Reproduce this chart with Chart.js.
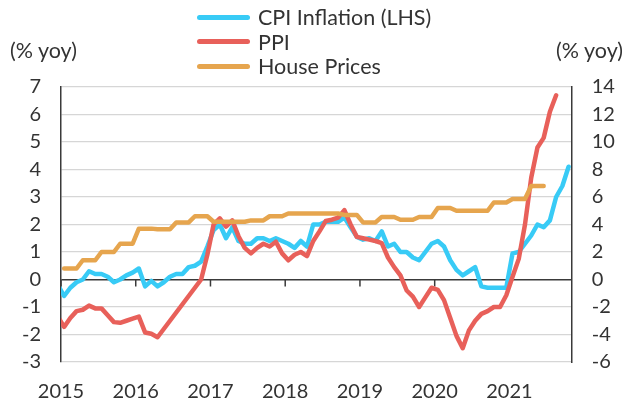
<!DOCTYPE html>
<html>
<head>
<meta charset="utf-8">
<script src="https://cdn.jsdelivr.net/npm/chart.js@4.4.0/dist/chart.umd.min.js"></script>
<style>
  html, body { margin: 0; padding: 0; background: #fff; }
  #wrap { position: relative; width: 628px; height: 403px; font-family: Lato, sans-serif; color: #333; }
  #chart { position: absolute; left: 0; top: 0; }
  .unit { position: absolute; top: 37px; font-size: 21.5px; line-height: 26px; }
  #legend { position: absolute; left: 197px; top: 5px; font-size: 21.5px; }
  .item { display: flex; align-items: center; height: 24.5px; }
  .swatch { width: 53px; height: 5px; border-radius: 3px; margin-right: 8px; }
</style>
</head>
<body>
<div id="wrap">
  <canvas id="chart" width="628" height="403"></canvas>
  <div class="unit" style="left:10px">(% yoy)</div>
  <div class="unit" style="right:5px">(% yoy)</div>
  <div id="legend"></div>
</div>
<script>
// monthly series start in Dec 2014
const firstYear = 2014, firstMonth = 12;

// CPI inflation, % yoy (left axis), Dec 2014 - Oct 2021
const cpi = [
  -0.2,
  -0.6, -0.3, -0.1, 0.0, 0.3, 0.2, 0.2, 0.1, -0.1, 0.0, 0.15, 0.25,
  0.4, -0.25, -0.05, -0.25, -0.1, 0.1, 0.2, 0.2, 0.45, 0.5, 0.65, 1.2,
  1.8, 2.0, 1.5, 1.9, 1.4, 1.3, 1.3, 1.5, 1.5, 1.4, 1.5, 1.4,
  1.3, 1.15, 1.4, 1.2, 2.0, 2.0, 2.1, 2.1, 2.1, 2.25, 1.9, 1.55,
  1.45, 1.5, 1.4, 1.75, 1.2, 1.3, 1.0, 1.0, 0.8, 0.7, 1.0, 1.3,
  1.4, 1.2, 0.7, 0.35, 0.15, 0.3, 0.45, -0.25, -0.3, -0.3, -0.3, -0.3,
  0.95, 1.0, 1.3, 1.6, 2.0, 1.9, 2.15, 3.0, 3.4, 4.1
];

// PPI, % yoy (right axis), Dec 2014 - Aug 2021
const ppi = [
  -2.7,
  -3.45, -2.8, -2.3, -2.2, -1.9, -2.1, -2.1, -2.6, -3.1, -3.15, -3.0, -2.85,
  -2.7, -3.85, -3.95, -4.2, -3.6, -3.0, -2.4, -1.8, -1.2, -0.6, 0.0, 1.8,
  4.0, 4.45, 3.85, 4.3, 3.15, 2.3, 1.9, 2.3, 2.6, 2.4, 2.75, 1.9,
  1.4, 1.8, 2.0, 1.7, 2.8, 3.5, 4.25, 4.35, 4.5, 5.05, 4.0, 3.1,
  3.0, 2.9, 2.8, 2.65, 1.6, 0.9, 0.3, -0.8, -1.25, -2.0, -1.3, -0.6,
  -0.75, -1.5, -2.8, -4.1, -5.0, -3.7, -3.0, -2.5, -2.3, -2.0, -2.0, -1.15,
  0.2, 1.5, 4.0, 7.4, 9.6, 10.3, 12.2, 13.4
];

// House prices, % yoy (right axis), quarterly 2015Q1 - 2021Q2
const housePrices = [
  0.8, 1.4, 2.0, 2.6,
  3.7, 3.65, 4.15, 4.6,
  4.2, 4.2, 4.3, 4.6,
  4.8, 4.8, 4.8, 4.7,
  4.15, 4.55, 4.35, 4.55,
  5.2, 5.0, 5.0, 5.6,
  5.85, 6.8
];

const yearTicks = [2015, 2016, 2017, 2018, 2019, 2020, 2021];

const colors = { cpi: "#38CBF6", ppi: "#E8605A", house: "#E6A54E" };
const textColor = "#333333";
const axisColor = "#3a3a3a";
const tickFont = { family: "Lato", size: 20 };

// month index (from the first month) -> position in years, mid-month
const monthPos = (i) => firstYear + (firstMonth - 1 + i + 0.5) / 12;

const cpiPoints = cpi.map((v, i) => ({ x: monthPos(i), y: v }));
const ppiPoints = ppi.map((v, i) => ({ x: monthPos(i), y: v }));
// quarterly values held for the three months of the quarter, from Jan 2015
const housePoints = [];
housePrices.forEach((v, q) => {
  for (let k = 0; k < 3; k++) housePoints.push({ x: monthPos(1 + q * 3 + k), y: v });
});

// small tick marks hanging under the zero line
const zeroTicks = {
  id: "zeroTicks",
  beforeDatasetsDraw(chart) {
    const { ctx, scales } = chart;
    const y0 = scales.y.getPixelForValue(0);
    ctx.save();
    ctx.strokeStyle = axisColor;
    ctx.lineWidth = 1.5;
    yearTicks.forEach((yr) => {
      const x = scales.x.getPixelForValue(yr);
      ctx.beginPath();
      ctx.moveTo(x, y0);
      ctx.lineTo(x, y0 + 7);
      ctx.stroke();
    });
    ctx.restore();
  },
};

const lineStyle = {
  borderWidth: 4.5,
  pointRadius: 0,
  tension: 0,
  fill: false,
  borderCapStyle: "round",
  borderJoinStyle: "round",
  clip: 0,
};

const chart = new Chart(document.getElementById("chart"), {
  type: "line",
  data: {
    datasets: [
      { label: "CPI Inflation (LHS)", data: cpiPoints, borderColor: colors.cpi, yAxisID: "y", order: 3, ...lineStyle },
      { label: "PPI", data: ppiPoints, borderColor: colors.ppi, yAxisID: "y2", order: 2, ...lineStyle },
      { label: "House Prices", data: housePoints, borderColor: colors.house, yAxisID: "y2", order: 1, ...lineStyle },
    ],
  },
  options: {
    responsive: false,
    animation: false,
    devicePixelRatio: 1,
    layout: { padding: { top: 87, left: 0, right: 0, bottom: 0 } },
    plugins: { legend: { display: false }, tooltip: { enabled: false } },
    scales: {
      x: {
        type: "linear",
        min: 2015,
        max: 2015 + 82 / 12,
        afterBuildTicks: (s) => { s.ticks = yearTicks.map((v) => ({ value: v })); },
        afterFit: (s) => { s.height = 41; },
        grid: { display: false },
        border: { display: false },
        ticks: {
          color: textColor,
          font: tickFont,
          padding: 10,
          maxRotation: 0,
          callback: (v) => String(v),
        },
      },
      y: {
        position: "left",
        min: -3,
        max: 7,
        afterFit: (s) => { s.width = 61; },
        ticks: { stepSize: 1, color: textColor, font: tickFont, padding: 20 },
        grid: {
          drawTicks: false,
          color: (c) => (c.tick.value === 0 ? axisColor : "#d6d6d6"),
          lineWidth: (c) => (c.tick.value === 0 ? 1.5 : 1.2),
        },
        border: { display: true, color: axisColor, width: 1.5 },
      },
      y2: {
        position: "right",
        min: -6,
        max: 14,
        afterFit: (s) => { s.width = 56.3; },
        ticks: { stepSize: 2, color: textColor, font: tickFont, padding: 20 },
        grid: { display: false, drawTicks: false },
        border: { display: true, color: axisColor, width: 1.5 },
      },
    },
  },
  plugins: [zeroTicks],
});

// legend built from the datasets
const legend = document.getElementById("legend");
chart.data.datasets.forEach((ds) => {
  const item = document.createElement("div");
  item.className = "item";
  const sw = document.createElement("span");
  sw.className = "swatch";
  sw.style.background = ds.borderColor;
  const label = document.createElement("span");
  label.textContent = ds.label;
  item.appendChild(sw);
  item.appendChild(label);
  legend.appendChild(item);
});
</script>
</body>
</html>
